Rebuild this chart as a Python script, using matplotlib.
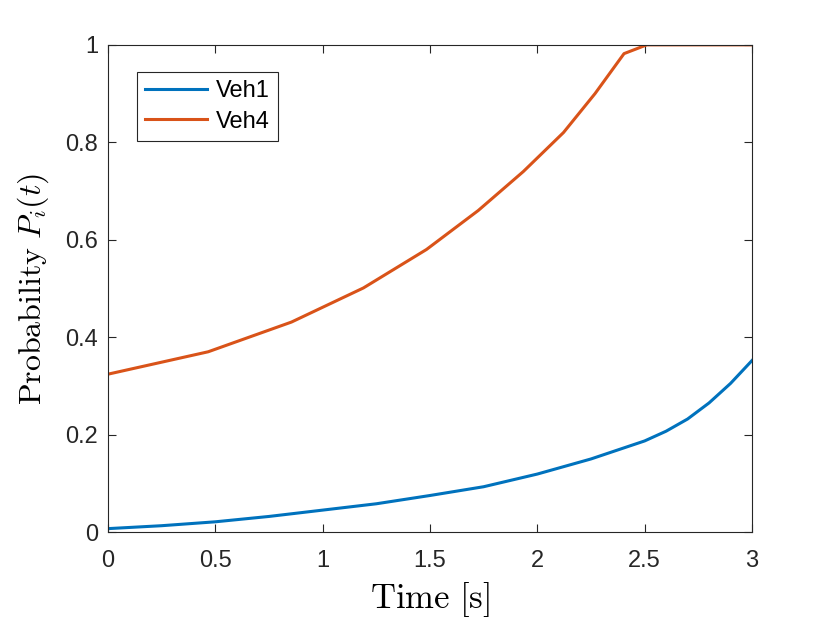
import matplotlib
matplotlib.use('Agg')
import matplotlib.pyplot as plt

# Veh1: smooth curve, Veh4: piecewise-linear curve
t_veh1 = [0.0, 0.25, 0.5, 0.75, 1.0, 1.25, 1.5, 1.75, 2.0, 2.25, 2.5, 2.6, 2.7, 2.8, 2.9, 3.0]
p_veh1 = [0.007, 0.013, 0.021, 0.032, 0.045, 0.058, 0.075, 0.093, 0.119, 0.150, 0.187,
          0.207, 0.232, 0.265, 0.305, 0.352]

t_veh4 = [0.0, 0.467, 0.855, 1.19, 1.484, 1.725, 1.935, 2.122, 2.269, 2.404, 2.51, 3.0]
p_veh4 = [0.324, 0.370, 0.431, 0.501, 0.580, 0.660, 0.740, 0.820, 0.900, 0.982, 1.0, 1.0]

labels = ['Veh1', 'Veh4']
colors = ['#0072BD', '#D95319']

x_ticks = [0, 0.5, 1, 1.5, 2, 2.5, 3]
x_ticklabels = ['0', '0.5', '1', '1.5', '2', '2.5', '3']
y_ticks = [0, 0.2, 0.4, 0.6, 0.8, 1.0]
y_ticklabels = ['0', '0.2', '0.4', '0.6', '0.8', '1']

plt.rcParams['font.family'] = ['Liberation Sans', 'DejaVu Sans']
plt.rcParams['mathtext.fontset'] = 'cm'

fig = plt.figure(figsize=(8.3, 6.23), dpi=100)
ax = fig.add_axes([0.130, 0.146, 0.776, 0.782])

ax.plot(t_veh1, p_veh1, color=colors[0], linewidth=2.2, label=labels[0])
ax.plot(t_veh4, p_veh4, color=colors[1], linewidth=2.2, label=labels[1])

ax.set_xlim(0, 3)
ax.set_ylim(0, 1)
ax.set_xticks(x_ticks)
ax.set_xticklabels(x_ticklabels)
ax.set_yticks(y_ticks)
ax.set_yticklabels(y_ticklabels)

spine_col = '#262626'
for s in ax.spines.values():
    s.set_color(spine_col)
    s.set_linewidth(0.8)
ax.tick_params(direction='in', top=True, right=True, length=6, width=0.8,
               colors=spine_col, labelsize=17)
ax.tick_params(axis='x', pad=13)
ax.tick_params(axis='y', pad=7)

ax.set_xlabel(r'$\mathrm{Time\ [s]}$', fontsize=25, labelpad=6)
ax.set_ylabel(r'$\mathrm{Probability}\ P_i(t)$', fontsize=23, labelpad=10)

leg = ax.legend(loc='upper left', bbox_to_anchor=(0.045, 0.944), borderaxespad=0,
                fontsize=17, fancybox=False, framealpha=1, edgecolor='#262626',
                handlelength=2.6, handletextpad=0.4, borderpad=0.35, labelspacing=0.35)
leg.get_frame().set_linewidth(0.8)

fig.savefig('out.png', dpi=100)
